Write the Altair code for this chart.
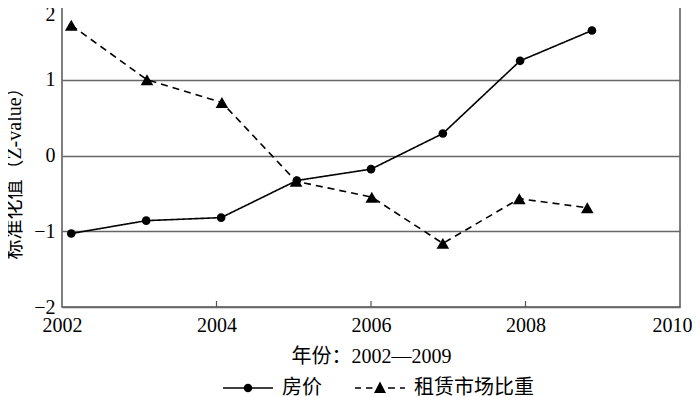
import altair as alt
import pandas as pd

series = ["房价", "租赁市场比重"]
price_years = [2002.12, 2003.09, 2004.06, 2005.04, 2006.0, 2006.93, 2007.93, 2008.86]
price_vals = [-1.03, -0.86, -0.82, -0.33, -0.18, 0.29, 1.25, 1.65]
rent_years = [2002.12, 2003.10, 2004.07, 2005.03, 2006.01, 2006.93, 2007.92, 2008.80]
rent_vals = [1.72, 1.00, 0.70, -0.34, -0.55, -1.16, -0.57, -0.69]
x_ticks = [2002, 2004, 2006, 2008, 2010]
inner_ticks = [2004, 2006, 2008]
y_ticks = [-2, -1, 0, 1, 2]

W, H = 618, 303
FONT = "Liberation Serif, Noto Sans CJK SC"

df = pd.DataFrame({
    "year": price_years + rent_years,
    "value": price_vals + rent_vals,
    "series": [series[0]] * len(price_years) + [series[1]] * len(rent_years),
})

xenc = alt.X("year:Q", scale=alt.Scale(domain=[2002, 2010], nice=False, zero=False),
             axis=alt.Axis(values=x_ticks, format="d", title="年份：2002—2009",
                           grid=False, ticks=False, domain=False, labelPadding=8,
                           labelFlush=False,
                           labelOffset={"condition": {"test": "datum.value == 2010", "value": -8},
                                        "value": 0},
                           titleY=49, titleBaseline="middle"))
yenc = alt.Y("value:Q", scale=alt.Scale(domain=[-2, 2], nice=False),
             axis=alt.Axis(values=y_ticks, format="d", title="标准化值（Z-value）",
                           grid=True, ticks=False, domain=False, labelPadding=7,
                           labelFlush=False,
                           labelBaseline={"condition": {"test": "datum.value == 2", "value": "top"},
                                          "value": "middle"},
                           titleX=-48, titleY=164, titleBaseline="middle"))

base = alt.Chart(df)

lines = base.mark_line(color="black", strokeWidth=1.6).encode(
    x=xenc, y=yenc,
    strokeDash=alt.StrokeDash("series:N", scale=alt.Scale(domain=series, range=[[1, 0], [7, 5]]), legend=None),
)

points = base.mark_point(filled=True, color="black", opacity=1).encode(
    x="year:Q", y="value:Q",
    shape=alt.Shape("series:N", scale=alt.Scale(domain=series, range=["circle", "triangle-up"]), legend=None),
    size=alt.Size("series:N", scale=alt.Scale(domain=series, range=[75, 160]), legend=None),
)

# legend glyphs (unit box, 1 unit = 25 px): thin filled bars + marker
t = 0.032
path_price = (f"M-1,-{t}H1V{t}H-1Z"
              "M0.17,0A0.17,0.17,0,1,1,-0.17,0A0.17,0.17,0,1,1,0.17,0Z")
dash_segs = [(-1.0, -0.76), (-0.56, -0.30), (0.32, 0.6), (0.8, 1.0)]
path_rent = "".join(f"M{a},-{t}H{b}V{t}H{a}Z" for a, b in dash_segs) + "M0,-0.26L0.24,0.2L-0.24,0.2Z"

legend_layer = base.mark_point(filled=True, color="black", opacity=1).transform_filter("false").encode(
    x="year:Q", y="value:Q",
    shape=alt.Shape("series:N", scale=alt.Scale(domain=series, range=[path_price, path_rent]),
                    legend=alt.Legend(title=None, orient="none", legendX=160, legendY=358,
                                      direction="horizontal", symbolSize=2500,
                                      symbolFillColor="black", labelOffset=8,
                                      columnPadding=30, labelFontSize=20, labelFont=FONT,
                                      labelColor="black")),
)

ticks = alt.Chart(pd.DataFrame({"year": inner_ticks})).mark_rule(color="#555", strokeWidth=1.2).encode(
    x="year:Q", y=alt.value(H), y2=alt.value(H - 6),
)

chart = alt.layer(lines, points, legend_layer, ticks).resolve_scale(
    shape="independent"
).properties(
    width=W, height=H,
    autosize=alt.AutoSizeParams(type="none"),
    padding={"left": 54, "top": -4, "right": 12, "bottom": 89},
).configure_view(
    stroke="#555", strokeWidth=1.5
).configure_axis(
    labelFont=FONT, titleFont=FONT, labelFontSize=20, titleFontSize=20,
    labelColor="black", titleColor="black", titleFontWeight="normal",
    gridColor="#666", gridWidth=1.5, gridOpacity=1,
).configure_axisY(labelBaseline="middle")

chart.save("out.html", embed_options={"renderer": "svg", "actions": False})
